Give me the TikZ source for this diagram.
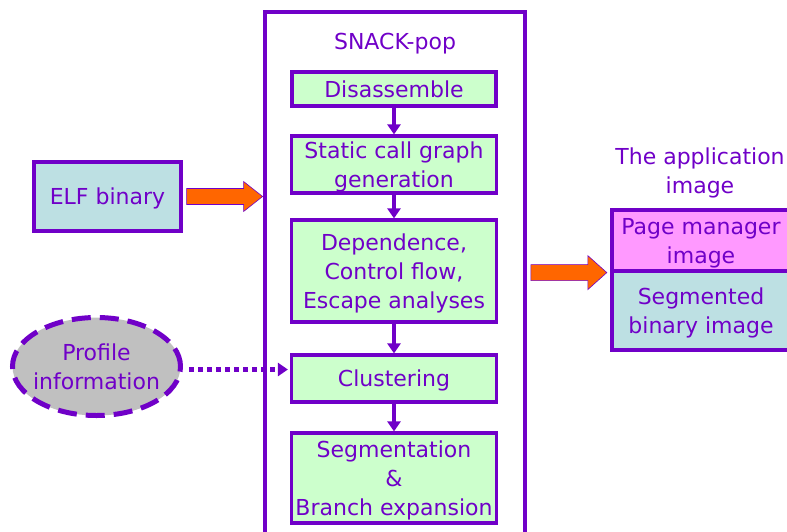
\documentclass[tikz,border=0pt]{standalone}
\usepackage{fontspec}
\setmainfont{DejaVu Sans}
\usetikzlibrary{arrows.meta,shapes.geometric,calc}
\definecolor{vio}{RGB}{112,0,200}
\definecolor{mint}{RGB}{204,255,204}
\definecolor{paleteal}{RGB}{189,224,227}
\definecolor{pinkbox}{RGB}{255,153,255}
\definecolor{orng}{RGB}{255,102,0}
\definecolor{cloud}{RGB}{192,192,192}
\begin{document}
\begin{tikzpicture}[x=1pt,y=-1pt,
  every node/.style={font=\fontsize{22}{29}\selectfont, text=vio, align=center, inner sep=0pt, text depth=0pt},
  stage/.style={draw=vio, line width=3.2pt, fill=mint, minimum width=205pt},
  plainbox/.style={draw=vio, line width=3.2pt},
  flow/.style={draw=vio, line width=4pt, -{Triangle[length=10pt,width=13pt]}},
  dotflow/.style={draw=vio, line width=4.5pt, dash pattern=on 4.5pt off 4.5pt, -{Triangle[length=10pt,width=13pt]}},
  blockarr/.style={draw=vio, line width=0.6pt, fill=orng}]
  \useasboundingbox (0,0) rectangle (787,531);
  \clip (0,0) rectangle (787,531);

  % tool frame
  \node[plainbox, line width=3.6pt, minimum width=260pt, minimum height=533pt] (snack) at (395,278.5) {};
  \node (title) at (395,41) {SNACK-pop};

  % pipeline stages
  \node[stage, minimum width=204pt, minimum height=34pt] (dis) at (394,89) {Disassemble};
  \node[stage, minimum height=57pt] (cg) at (394,164.5) {Static call graph\\generation};
  \node[stage, minimum height=102pt] (dep) at (394,271) {Dependence,\\Control flow,\\Escape analyses};
  \node[stage, minimum height=47pt] (clu) at (394,378.5) {Clustering};
  \node[stage, minimum height=90pt] (seg) at (394,478) {Segmentation\\\&\\Branch expansion};

  \draw[flow] (dis) -- (cg);
  \draw[flow] (cg) -- (dep);
  \draw[flow] (dep) -- (clu);
  \draw[flow] (clu) -- (seg);

  % inputs
  \node[plainbox, fill=paleteal, minimum width=147pt, minimum height=69pt] (elf) at (107.5,196.5) {ELF binary};
  \node[ellipse, draw=vio, line width=5pt, dash pattern=on 19pt off 9pt, fill=cloud,
        minimum width=168pt, minimum height=98pt] (prof) at (96.5,366.5) {};
  \node (proftext) at (prof.center) {Profile\\information};

  \filldraw[blockarr] ($(elf.east)+(4,-8)$) -- ++(57,0) -- ++(0,-7) -- ++(19,15)
    -- ++(-19,15) -- ++(0,-7) -- ++(-57,0) -- cycle;

  \coordinate (pstart) at ($(prof.east)+(6,3)$);
  \draw[dotflow] (pstart) -- ($(clu.west)+(-2,-9)$);

  % output image
  \node (apptitle) at (700,171) {The application\\image};
  \node[plainbox, fill=pinkbox, minimum width=178pt, minimum height=61pt] (pm) at (701,240.5) {Page manager\\image};
  \node[plainbox, fill=paleteal, minimum width=178pt, minimum height=79pt] (sb) at (701,310.5) {Segmented\\binary image};

  \filldraw[blockarr] ($(snack.east |- pm.south)+(4,-8)$) -- ++(57,0) -- ++(0,-9) -- ++(19,17)
    -- ++(-19,17) -- ++(0,-9) -- ++(-57,0) -- cycle;
\end{tikzpicture}
\end{document}
